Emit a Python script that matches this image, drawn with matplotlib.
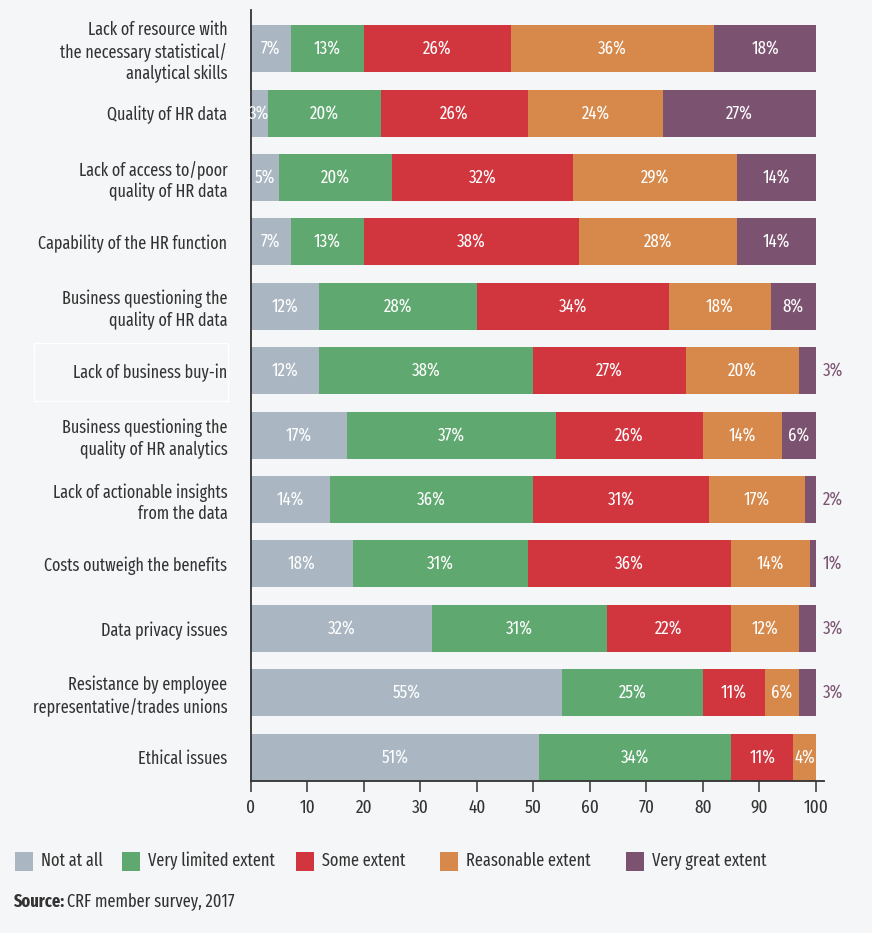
import matplotlib.pyplot as plt
from matplotlib.patches import Rectangle
from matplotlib import font_manager

# ── data ──
categories = [
    "Lack of resource with\nthe necessary statistical/\nanalytical skills",
    "Quality of HR data",
    "Lack of access to/poor\nquality of HR data",
    "Capability of the HR function",
    "Business questioning the\nquality of HR data",
    "Lack of business buy-in",
    "Business questioning the\nquality of HR analytics",
    "Lack of actionable insights\nfrom the data",
    "Costs outweigh the benefits",
    "Data privacy issues",
    "Resistance by employee\nrepresentative/trades unions",
    "Ethical issues",
]
not_at_all = [7, 3, 5, 7, 12, 12, 17, 14, 18, 32, 55, 51]
very_limited = [13, 20, 20, 13, 28, 38, 37, 36, 31, 31, 25, 34]
some_extent = [26, 26, 32, 38, 34, 27, 26, 31, 36, 22, 11, 11]
reasonable = [36, 24, 29, 28, 18, 20, 14, 17, 14, 12, 6, 4]
very_great = [18, 27, 14, 14, 8, 3, 6, 2, 1, 3, 3, 0]

series_names = ["Not at all", "Very limited extent", "Some extent",
                "Reasonable extent", "Very great extent"]
series = [not_at_all, very_limited, some_extent, reasonable, very_great]
colors = ["#aab6c2", "#5fa870", "#d1363f", "#d6894b", "#7b5371"]
ticks = [0, 10, 20, 30, 40, 50, 60, 70, 80, 90, 100]

BG = "#f5f6f8"
TXT = "#333333"

# narrow sans for the labels, first one found wins
installed = {f.name for f in font_manager.fontManager.ttflist}
if "Fira Sans Extra Condensed" in installed:
    fam, k_fs = ["Fira Sans Extra Condensed"], 1.0
elif "Fira Sans Condensed" in installed:
    fam, k_fs = ["Fira Sans Condensed"], 0.9
else:
    fam, k_fs = [], 0.8
plt.rcParams["font.family"] = fam + ["DejaVu Sans"]
FS_LAB = 12.6 * k_fs
FS_VAL = 13.2 * k_fs
FS_TICK = 13.5 * k_fs
FS_LEG = 12.8 * k_fs

fig = plt.figure(figsize=(8.72, 9.33), dpi=100, facecolor=BG)
ax = fig.add_axes([0.2878, 0.1629, 0.657, 0.8264], facecolor=BG)

n = len(categories)
ypos = list(range(n))
left = [0] * n
for k, (vals, col) in enumerate(zip(series, colors)):
    ax.barh(ypos, vals, left=left, height=0.73, color=col, linewidth=0)
    for i, v in enumerate(vals):
        if v <= 0:
            continue
        if k == len(series) - 1 and v < 5:
            ax.text(left[i] + v + 1.2, i, f"{v}%", ha="left", va="center",
                    color=col, fontsize=FS_VAL)
        else:
            ax.text(left[i] + v / 2, i, f"{v}%", ha="center", va="center",
                    color="white", fontsize=FS_VAL)
    left = [a + b for a, b in zip(left, vals)]

ax.set_xlim(0, 101.4)
ax.set_ylim(11.37, -0.6)
ax.set_yticks(ypos)
ax.set_yticklabels(categories, fontsize=FS_LAB, color=TXT, linespacing=1.24)
ax.tick_params(axis="y", length=0, pad=17)
ax.set_xticks(ticks)
ax.set_xticklabels([str(t) for t in ticks], fontsize=FS_TICK, color=TXT)
ax.tick_params(axis="x", length=8, width=1.1, color=TXT, pad=5, direction="out")
for s in ["top", "right"]:
    ax.spines[s].set_visible(False)
for s in ["left", "bottom"]:
    ax.spines[s].set_color(TXT)
    ax.spines[s].set_linewidth(1.3)

# faint frame around one row label
fig.add_artist(Rectangle((34 / 872, 1 - 401 / 933), 194 / 872, 58 / 933,
                         transform=fig.transFigure, fill=False,
                         edgecolor="white", linewidth=1.0))

# legend
leg_x = [15, 122, 296, 440, 626]
leg_y = 1 - 861 / 933
for x, name, col in zip(leg_x, series_names, colors):
    fig.add_artist(Rectangle((x / 872, leg_y - 9.5 / 933), 18 / 872, 19 / 933,
                             transform=fig.transFigure, color=col, linewidth=0))
    fig.text((x + 26) / 872, leg_y, name, ha="left", va="center",
             fontsize=FS_LEG, color=TXT)

# source line
src = fig.text(13 / 872, 1 - 902 / 933, "Source:", ha="left", va="center",
               fontsize=FS_LEG, color=TXT, fontweight="bold")
fig.canvas.draw()
bb = src.get_window_extent()
fig.text(bb.x1 / fig.bbox.width + 3 / 872, 1 - 902 / 933, "CRF member survey, 2017",
         ha="left", va="center", fontsize=FS_LEG, color=TXT)

fig.savefig("out.png", dpi=100, facecolor=BG)
